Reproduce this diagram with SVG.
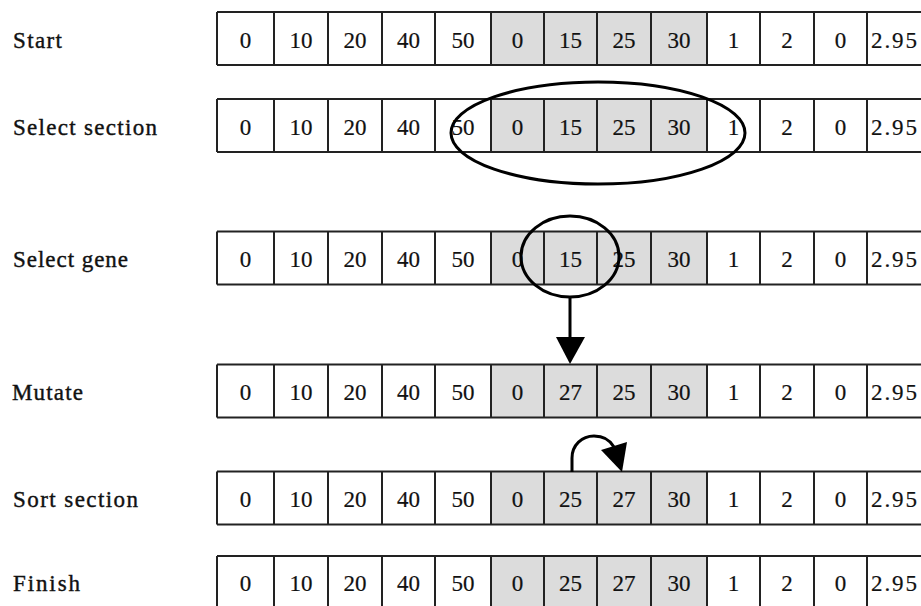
<svg xmlns="http://www.w3.org/2000/svg" xmlns:xlink="http://www.w3.org/1999/xlink" width="921" height="606" viewBox="0 0 921 606">
  <style>
    .lbl { font-family: "Liberation Serif", "Times New Roman", serif; font-size: 23px; fill: #111; stroke: #111; stroke-width: 0.4; }
    .val { font-family: "Liberation Serif", "Times New Roman", serif; font-size: 23px; fill: #111; stroke: #111; stroke-width: 0.2; text-anchor: middle; }
    .last { font-family: "Liberation Serif", "Times New Roman", serif; font-size: 23px; fill: #111; stroke: #111; stroke-width: 0.2; }
    .grid { fill: none; stroke: #222; stroke-width: 2; }
    .sec { fill: #dcdcdc; }
    .mark { fill: none; stroke: #000; stroke-width: 3; }
    .head { fill: #000; stroke: none; }
  </style>
  <defs>
    <!-- one chromosome row: 13 cells, the selected section shaded -->
    <g id="frame">
      <rect x="217" y="0" width="710" height="53" fill="#fff"/>
      <rect class="sec" x="491" y="0" width="216" height="53"/>
      <path class="grid" d="M217,0 H927 M217,53 H927 M217,0 V53 M274,0 V53 M328,0 V53 M382,0 V53 M435,0 V53 M491,0 V53 M544,0 V53 M597,0 V53 M651,0 V53 M707,0 V53 M760,0 V53 M814,0 V53 M867,0 V53"/>
    </g>
  </defs>
  <rect width="921" height="606" fill="#fff"/>

  <g id="row-start" transform="translate(0,12)">
    <use xlink:href="#frame"/>
    <text class="lbl" x="13" y="36" textLength="49">Start</text>
    <text class="val" y="36"><tspan x="245.5">0</tspan><tspan x="301">10</tspan><tspan x="355">20</tspan><tspan x="408.5">40</tspan><tspan x="463">50</tspan><tspan x="517.5">0</tspan><tspan x="570.5">15</tspan><tspan x="624">25</tspan><tspan x="679">30</tspan><tspan x="733.5">1</tspan><tspan x="787">2</tspan><tspan x="840.5">0</tspan></text>
    <text class="last" x="871" y="36" textLength="46">2.95</text>
  </g>

  <g id="row-select-section" transform="translate(0,99)">
    <use xlink:href="#frame"/>
    <text class="lbl" x="13" y="36" textLength="144">Select section</text>
    <text class="val" y="36"><tspan x="245.5">0</tspan><tspan x="301">10</tspan><tspan x="355">20</tspan><tspan x="408.5">40</tspan><tspan x="463">50</tspan><tspan x="517.5">0</tspan><tspan x="570.5">15</tspan><tspan x="624">25</tspan><tspan x="679">30</tspan><tspan x="733.5">1</tspan><tspan x="787">2</tspan><tspan x="840.5">0</tspan></text>
    <text class="last" x="871" y="36" textLength="46">2.95</text>
  </g>

  <g id="row-select-gene" transform="translate(0,231.5)">
    <use xlink:href="#frame"/>
    <text class="lbl" x="13" y="35" textLength="115">Select gene</text>
    <text class="val" y="35"><tspan x="245.5">0</tspan><tspan x="301">10</tspan><tspan x="355">20</tspan><tspan x="408.5">40</tspan><tspan x="463">50</tspan><tspan x="517.5">0</tspan><tspan x="570.5">15</tspan><tspan x="624">25</tspan><tspan x="679">30</tspan><tspan x="733.5">1</tspan><tspan x="787">2</tspan><tspan x="840.5">0</tspan></text>
    <text class="last" x="871" y="35" textLength="46">2.95</text>
  </g>

  <g id="row-mutate" transform="translate(0,364.5)">
    <use xlink:href="#frame"/>
    <text class="lbl" x="12" y="35" textLength="71">Mutate</text>
    <text class="val" y="35"><tspan x="245.5">0</tspan><tspan x="301">10</tspan><tspan x="355">20</tspan><tspan x="408.5">40</tspan><tspan x="463">50</tspan><tspan x="517.5">0</tspan><tspan x="570.5">27</tspan><tspan x="624">25</tspan><tspan x="679">30</tspan><tspan x="733.5">1</tspan><tspan x="787">2</tspan><tspan x="840.5">0</tspan></text>
    <text class="last" x="871" y="35" textLength="46">2.95</text>
  </g>

  <g id="row-sort-section" transform="translate(0,471.5)">
    <use xlink:href="#frame"/>
    <text class="lbl" x="13" y="35" textLength="125">Sort section</text>
    <text class="val" y="35"><tspan x="245.5">0</tspan><tspan x="301">10</tspan><tspan x="355">20</tspan><tspan x="408.5">40</tspan><tspan x="463">50</tspan><tspan x="517.5">0</tspan><tspan x="570.5">25</tspan><tspan x="624">27</tspan><tspan x="679">30</tspan><tspan x="733.5">1</tspan><tspan x="787">2</tspan><tspan x="840.5">0</tspan></text>
    <text class="last" x="871" y="35" textLength="46">2.95</text>
  </g>

  <g id="row-finish" transform="translate(0,556)">
    <use xlink:href="#frame"/>
    <text class="lbl" x="13" y="35" textLength="67">Finish</text>
    <text class="val" y="35"><tspan x="245.5">0</tspan><tspan x="301">10</tspan><tspan x="355">20</tspan><tspan x="408.5">40</tspan><tspan x="463">50</tspan><tspan x="517.5">0</tspan><tspan x="570.5">25</tspan><tspan x="624">27</tspan><tspan x="679">30</tspan><tspan x="733.5">1</tspan><tspan x="787">2</tspan><tspan x="840.5">0</tspan></text>
    <text class="last" x="871" y="35" textLength="46">2.95</text>
  </g>

  <g id="connectors">
    <!-- section selection -->
    <ellipse class="mark" cx="598" cy="133" rx="147" ry="51"/>
    <!-- gene selection -->
    <ellipse class="mark" cx="570" cy="256.5" rx="49" ry="40.5"/>
    <!-- mutation arrow -->
    <line class="mark" x1="570" y1="297" x2="570" y2="340"/>
    <polygon class="head" points="556,337 585,337 570,364"/>
    <!-- sort swap arrow -->
    <path class="mark" d="M572,472 V458 C572,445 582,436 594,436 C604,436 610,440 614,447"/>
    <polygon class="head" points="601,450 627,442 622,472"/>
  </g>
</svg>
